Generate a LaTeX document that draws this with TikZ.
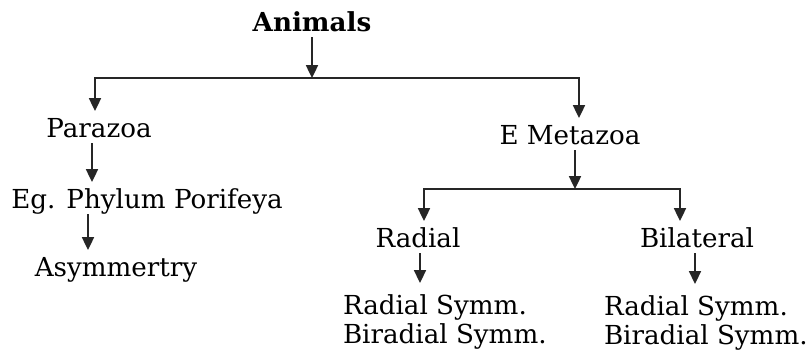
\documentclass[tikz,border=0pt]{standalone}
\usepackage{fontspec}
\setmainfont{DejaVu Serif}
\usetikzlibrary{arrows.meta, positioning}

\begin{document}
\begin{tikzpicture}[
    x=0.025cm, y=-0.025cm,
    lbl/.style={
        inner sep=0pt, outer sep=0pt,
        text height=0.65cm, text depth=0.15cm,
        font=\fontsize{18.6}{20.6}\selectfont,
        anchor=base
    },
    multi/.style={
        inner xsep=0pt, inner ysep=0.28cm, outer sep=0pt,
        font=\fontsize{18.6}{20.6}\selectfont,
        align=left, anchor=base west
    },
    arr/.style={-{Triangle[length=3.2mm, width=3mm]}, line width=1.2pt, black!85}
]
\useasboundingbox (0,0) rectangle (811,351);

% === LEVEL 1 ===

\node[lbl, font=\bfseries\fontsize{18.6}{20.6}\selectfont] (anim) at (312,31) {Animals};

% === LEFT BRANCH ===

\node[lbl] (para) at (99,137) {Parazoa};
\node[lbl] (pori) at (147,208) {Eg. Phylum Porifeya};
\node[lbl] (asym) at (116,276) {Asymmertry};

% === RIGHT BRANCH ===

\node[lbl] (meta) at (570,144) {E Metazoa};
\node[lbl] (rad) at (418,247) {Radial};
\node[lbl] (bil) at (697,247) {Bilateral};
\node[multi] (radsym) at (343,343) {Radial Symm.\\Biradial Symm.};
\node[multi] (bilsym) at (604,344) {Radial Symm.\\Biradial Symm.};

% === ARROWS ===

\coordinate (j1) at (anim.south |- 0,78);
\coordinate (j2) at (575,189);

% Animals -> split
\draw[arr] (anim.south) -- (j1);
\draw[arr] (j1) -| (para.north -| 95,0);
\draw[arr] (j1) -| (meta.north -| 579,0);

% Parazoa chain
\draw[arr] (para.south -| 92,0) -- (pori.north -| 92,0);
\draw[arr] (pori.south -| 88,0) -- (asym.north -| 88,0);

% Metazoa -> split
\draw[arr] (meta.south -| j2) -- (j2);
\draw[arr] (j2) -| (rad.north -| 424,0);
\draw[arr] (j2) -| (bil.north -| 680,0);

% symmetry
\draw[arr] (rad.south -| 420,0) -- (radsym.north -| 420,0);
\draw[arr] (bil.south -| 695,0) -- (bilsym.north -| 695,0);

\end{tikzpicture}
\end{document}
